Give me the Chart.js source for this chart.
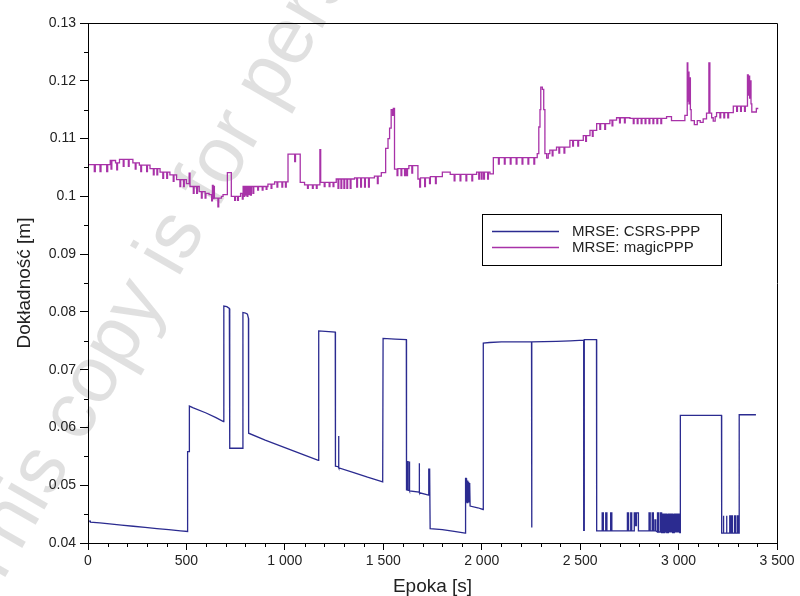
<!DOCTYPE html>
<html><head><meta charset="utf-8">
<script src="https://cdn.jsdelivr.net/npm/chart.js@4"></script>
<style>html,body{margin:0;padding:0;background:#fff;overflow:hidden}</style>
</head><body>
<canvas id="c" width="800" height="596" style="display:block"></canvas>
<script>
const xTickValues = [0, 500, 1000, 1500, 2000, 2500, 3000, 3500];
const xTickLabels = ['0', '500', '1 000', '1 500', '2 000', '2 500', '3 000', '3 500'];
const yTickValues = [0.04, 0.05, 0.06, 0.07, 0.08, 0.09, 0.10, 0.11, 0.12, 0.13];
const yTickLabels = ['0.04', '0.05', '0.06', '0.07', '0.08', '0.09', '0.1', '0.11', '0.12', '0.13'];
const seriesNames = ['MRSE: CSRS-PPP', 'MRSE: magicPPP'];
const xTitle = 'Epoka [s]';
const yTitle = 'Dokładność [m]';
const watermarkText = 'This copy is for personal use only';

const csrsPPP = [
[0,0.0438],[12,0.0438],[12,0.0436],[60,0.0435],[110,0.0433],[170,0.0431],[230,0.0429],[290,0.0427],[350,0.0425],[410,0.0423],[470,0.0421],[506,0.0420],
[506,0.0558],[515,0.0558],[515,0.0637],[535,0.0634],[600,0.0625],[650,0.0617],[688,0.0610],
[690,0.0810],[705,0.0809],[718,0.0806],[720,0.0564],[786,0.0564],
[787,0.0799],[800,0.0798],[810,0.0796],[815,0.0789],[816,0.0590],
[900,0.0578],[1000,0.0565],[1100,0.0552],[1170,0.0543],
[1172,0.0767],[1256,0.0765],[1257,0.0533],[1271,0.0532],[1272,0.0585],[1274,0.0585],[1275,0.0530],[1350,0.0522],[1420,0.0514],[1497,0.0506],
[1499,0.0754],[1560,0.0753],[1617,0.0752],[1618,0.0492],[1624,0.0492],[1624,0.0541],[1626,0.0541],[1626,0.0491],[1632,0.0491],[1632,0.0541],[1634,0.0541],[1634,0.0490],
[1682,0.0488],[1682,0.0538],[1684,0.0538],[1684,0.0487],[1730,0.0483],[1731,0.0529],[1733,0.0483],[1734,0.0529],[1737,0.0529],[1738,0.0425],
[1800,0.0423],[1860,0.0420],[1916,0.0417],
[1918,0.0512],[1921,0.0512],[1922,0.0470],[1924,0.0510],[1926,0.0470],[1928,0.0508],[1930,0.0470],[1932,0.0506],[1934,0.0470],[1936,0.0504],[1938,0.0470],[1940,0.0502],[1941,0.0464],
[1980,0.0461],[2007,0.0458],
[2008,0.0746],[2040,0.0747],[2100,0.0748],[2253,0.0748],[2253,0.0427],[2255,0.0427],[2255,0.0748],[2380,0.0749],[2450,0.0750],[2518,0.0751],
[2518,0.0422],[2521,0.0422],[2521,0.0752],[2583,0.0752],[2584,0.0421],
[2612,0.0421],[2612,0.0452],[2618,0.0452],[2618,0.0421],
[2630,0.0421],[2630,0.0452],[2636,0.0452],[2636,0.0421],
[2655,0.0421],[2655,0.0452],[2661,0.0452],[2661,0.0421],
[2740,0.0421],[2740,0.0452],[2746,0.0452],[2746,0.0421],
[2757,0.0421],[2757,0.0452],[2762,0.0452],[2762,0.0421],
[2775,0.0421],[2775,0.0452],[2781,0.0452],[2781,0.0430],[2786,0.0430],[2786,0.0452],[2796,0.0452],[2796,0.0421],
[2850,0.0421],[2850,0.0452],[2856,0.0452],[2856,0.0421],
[2866,0.0421],[2866,0.0452],[2872,0.0452],[2872,0.0421],
[2880,0.0421],[2880,0.0440],[2884,0.0440],[2884,0.0421],
[2893,0.0419],[2893,0.0452],[2899,0.0452],[2899,0.0419],
[2908,0.0419],[2908,0.0452],[2914,0.0452],[2914,0.0418],
[2920,0.0418],[2920,0.0450],[2924,0.0450],[2924,0.0418],
[2930,0.0418],[2930,0.0450],[2934,0.0450],[2934,0.0418],
[2936,0.0418],[2936,0.0450],[2940,0.0450],[2940,0.0418],
[2942,0.0418],[2942,0.0450],[2946,0.0450],[2946,0.0418],
[2948,0.0418],[2948,0.0450],[2952,0.0450],[2952,0.0418],
[2954,0.0418],[2954,0.0450],[2958,0.0450],[2958,0.0418],
[2960,0.0418],[2960,0.0450],[2964,0.0450],[2964,0.0418],
[2966,0.0418],[2966,0.0450],[2970,0.0450],[2970,0.0418],
[2972,0.0418],[2972,0.0450],[2976,0.0450],[2976,0.0418],
[2978,0.0418],[2978,0.0450],[2982,0.0450],[2982,0.0418],
[2984,0.0418],[2984,0.0450],[2988,0.0450],[2988,0.0418],
[2990,0.0418],[2990,0.0450],[2994,0.0450],[2994,0.0418],
[2996,0.0418],[2996,0.0450],[3000,0.0450],[3000,0.0418],
[3002,0.0418],[3002,0.0450],[3006,0.0450],[3006,0.0418],
[3009,0.0418],[3009,0.0621],[3100,0.0621],[3218,0.0621],[3219,0.0417],
[3226,0.0417],[3226,0.0447],[3230,0.0447],[3230,0.0417],
[3242,0.0417],[3242,0.0447],[3246,0.0447],[3246,0.0417],
[3260,0.0417],[3260,0.0447],[3264,0.0447],[3264,0.0417],
[3270,0.0417],[3270,0.0447],[3274,0.0447],[3274,0.0417],
[3285,0.0417],[3285,0.0447],[3289,0.0447],[3289,0.0417],
[3298,0.0417],[3298,0.0447],[3304,0.0447],[3304,0.0417],
[3308,0.0417],[3308,0.0622],[3393,0.0622]
];

const magicPPP = [
[0,0.1055],[32,0.1043],[37,0.1055],[61,0.1043],[66,0.1055],[95,0.1043],[100,0.1055],
[113,0.1062],[117,0.1047],[121,0.1062],[140,0.1058],[146,0.1046],[150,0.1058],
[160,0.1064],[179,0.1052],[183,0.1064],[205,0.1052],[209,0.1064],
[228,0.1058],[240,0.1047],[244,0.1058],
[261,0.1054],[268,0.1043],[272,0.1054],[298,0.1043],[302,0.1054],
[315,0.1048],[332,0.1037],[336,0.1048],[350,0.1037],[354,0.1048],
[366,0.1042],[380,0.1031],[384,0.1042],[400,0.1031],[404,0.1042],
[416,0.1037],[433,0.1026],[437,0.1037],
[450,0.1029],[467,0.1017],[471,0.1029],[485,0.1017],[489,0.1029],
[500,0.1022],[514,0.1040],[518,0.1017],[535,0.1005],[539,0.1017],[552,0.1005],[556,0.1017],
[565,0.1008],[576,0.0997],[580,0.1008],[595,0.0997],[599,0.1005],
[615,0.1003],[628,0.0992],[632,0.1019],[636,0.0996],[639,0.1017],[642,0.0997],
[655,0.0997],[660,0.0982],[664,0.0997],[678,0.1000],[686,0.1003],
[708,0.1041],[728,0.1000],[745,0.0993],[749,0.1000],[760,0.0993],[764,0.1000],
[775,0.1005],[784,0.0995],[788,0.1017],[792,0.1000],[796,0.1017],[800,0.1002],[804,0.1017],[808,0.1000],[812,0.1017],[816,0.1003],[820,0.1017],[826,0.1002],[830,0.1017],[838,0.1005],[842,0.1017],
[862,0.1011],[866,0.1017],[885,0.1011],[889,0.1017],[905,0.1012],[909,0.1017],
[914,0.1021],[930,0.1014],[934,0.1021],
[948,0.1025],[960,0.1016],[964,0.1025],[985,0.1016],[989,0.1025],[1003,0.1016],[1007,0.1025],
[1016,0.1073],[1050,0.1060],[1054,0.1073],
[1078,0.1024],[1100,0.1020],[1115,0.1014],[1119,0.1020],[1140,0.1014],[1144,0.1020],[1160,0.1014],[1164,0.1020],
[1178,0.1081],[1182,0.1024],[1200,0.1017],[1204,0.1024],[1225,0.1017],[1229,0.1024],[1245,0.1017],[1249,0.1024],
[1261,0.1030],[1270,0.1014],[1274,0.1030],[1285,0.1014],[1289,0.1030],[1300,0.1014],[1304,0.1030],[1315,0.1014],[1319,0.1030],[1332,0.1014],[1336,0.1030],
[1354,0.1032],[1365,0.1016],[1369,0.1032],[1385,0.1016],[1389,0.1032],[1405,0.1016],[1409,0.1032],[1425,0.1016],[1429,0.1032],
[1455,0.1035],[1470,0.1022],[1474,0.1035],
[1490,0.1041],[1512,0.1083],[1524,0.1100],[1532,0.1118],[1540,0.1150],[1547,0.1140],[1551,0.1152],[1557,0.1047],
[1570,0.1036],[1574,0.1048],[1590,0.1036],[1594,0.1048],[1608,0.1036],[1611,0.1048],[1614,0.1036],[1617,0.1048],[1620,0.1036],[1623,0.1048],
[1630,0.1053],[1645,0.1040],[1649,0.1053],[1668,0.1053],
[1676,0.1030],[1685,0.1016],[1689,0.1032],[1710,0.1017],[1714,0.1032],[1735,0.1022],[1739,0.1034],[1765,0.1022],[1769,0.1034],
[1800,0.1042],[1840,0.1038],[1860,0.1027],[1864,0.1038],[1890,0.1027],[1894,0.1038],[1920,0.1027],[1924,0.1038],[1950,0.1027],[1954,0.1038],
[1974,0.1042],[1985,0.1030],[1989,0.1042],[1998,0.1030],[2002,0.1042],[2010,0.1030],[2014,0.1042],[2030,0.1030],[2034,0.1042],
[2042,0.1039],
[2059,0.1067],[2085,0.1056],[2089,0.1067],[2115,0.1056],[2119,0.1067],[2145,0.1056],[2149,0.1067],[2175,0.1056],[2179,0.1067],[2205,0.1056],[2209,0.1067],[2235,0.1056],[2239,0.1067],[2265,0.1056],[2269,0.1067],
[2282,0.1074],[2290,0.1120],[2296,0.1150],[2300,0.1189],[2308,0.1185],[2315,0.1150],[2321,0.1074],[2330,0.1066],[2338,0.1074],
[2346,0.1080],[2358,0.1070],[2362,0.1080],
[2380,0.1085],[2392,0.1075],[2396,0.1085],[2418,0.1075],[2422,0.1085],
[2448,0.1097],[2462,0.1087],[2466,0.1097],[2488,0.1087],[2492,0.1097],
[2516,0.1105],[2528,0.1095],[2532,0.1105],
[2550,0.1114],[2562,0.1104],[2566,0.1114],
[2584,0.1126],[2600,0.1116],[2604,0.1126],[2625,0.1116],[2629,0.1126],
[2651,0.1132],[2662,0.1122],[2666,0.1132],
[2685,0.1136],[2700,0.1127],[2704,0.1136],[2725,0.1127],[2729,0.1136],
[2753,0.1135],[2770,0.1126],[2774,0.1135],[2790,0.1126],[2794,0.1135],[2810,0.1126],[2814,0.1135],[2830,0.1126],[2834,0.1135],[2850,0.1126],[2854,0.1135],[2870,0.1126],[2874,0.1135],[2890,0.1126],[2894,0.1135],[2910,0.1126],[2914,0.1135],
[2939,0.1138],[2964,0.1131],[3032,0.1140],
[3044,0.1231],[3047,0.1165],[3050,0.1215],[3053,0.1160],[3056,0.1205],[3060,0.1150],[3064,0.1131],
[3080,0.1124],[3095,0.1131],[3110,0.1128],[3125,0.1134],[3142,0.1144],
[3154,0.1231],[3159,0.1144],[3168,0.1136],[3176,0.1130],[3186,0.1138],
[3193,0.1145],[3210,0.1136],[3214,0.1145],[3230,0.1136],[3234,0.1145],[3250,0.1136],[3254,0.1145],
[3278,0.1156],[3295,0.1147],[3299,0.1156],[3315,0.1147],[3319,0.1156],[3335,0.1147],[3339,0.1156],
[3350,0.1210],[3354,0.1175],[3357,0.1208],[3361,0.1170],[3364,0.1200],[3368,0.1160],[3372,0.1146],
[3395,0.1152],[3405,0.1152]
];

const seriesColors = ['#2b2b90', '#a832a8'];
const FONT = "'Liberation Sans', Arial, sans-serif";

const toXY = arr => arr.map(p => ({x: p[0], y: p[1]}));

const framePlugin = {
  id: 'frame',
  beforeDraw(chart) {
    const ctx = chart.ctx;
    ctx.save();
    ctx.fillStyle = '#fff';
    ctx.fillRect(0, 0, chart.width, chart.height);
    // watermark
    ctx.translate(-24, 584);
    ctx.rotate(-60 * Math.PI / 180);
    ctx.font = '80px ' + FONT;
    ctx.fillStyle = 'rgba(0,0,0,0.12)';
    ctx.textBaseline = 'middle';
    ctx.fillText(watermarkText, 0, 0);
    ctx.restore();
  },
  afterDraw(chart) {
    const ctx = chart.ctx;
    const a = chart.chartArea;
    const xs = chart.scales.x, ys = chart.scales.y;
    ctx.save();
    ctx.strokeStyle = '#000';
    ctx.lineWidth = 1;
    ctx.beginPath();
    ctx.rect(Math.round(a.left) + 0.5, Math.round(a.top) + 0.5, Math.round(a.right - a.left), Math.round(a.bottom - a.top));
    ctx.stroke();
    // minor ticks
    ctx.beginPath();
    for (let v = 100; v < 3500; v += 100) {
      if (v % 500 === 0) continue;
      const px = Math.round(xs.getPixelForValue(v)) + 0.5;
      ctx.moveTo(px, Math.round(a.bottom));
      ctx.lineTo(px, Math.round(a.bottom) + 4);
    }
    for (let i = 0; i < yTickValues.length - 1; i++) {
      const v = (yTickValues[i] + yTickValues[i + 1]) / 2;
      const py = Math.round(ys.getPixelForValue(v)) + 0.5;
      ctx.moveTo(Math.round(a.left) - 4, py);
      ctx.lineTo(Math.round(a.left), py);
    }
    ctx.stroke();
    // legend
    const bx = 482, by = 214, bw = 239, bh = 51;
    ctx.fillStyle = '#fff';
    ctx.fillRect(bx, by, bw, bh);
    ctx.strokeRect(bx + 0.5, by + 0.5, bw, bh);
    const rows = [231.5, 247.5];
    ctx.font = '15px ' + FONT;
    ctx.textBaseline = 'middle';
    ctx.textAlign = 'left';
    rows.forEach((yy, i) => {
      ctx.strokeStyle = seriesColors[i];
      ctx.lineWidth = 1.5;
      ctx.beginPath();
      ctx.moveTo(492, yy);
      ctx.lineTo(559, yy);
      ctx.stroke();
      ctx.fillStyle = '#222';
      ctx.fillText(seriesNames[i], 572, yy);
    });
    ctx.restore();
  }
};

new Chart(document.getElementById('c'), {
  type: 'line',
  data: {
    datasets: [
      {label: seriesNames[0], data: toXY(csrsPPP), borderColor: seriesColors[0], borderWidth: 1.3, pointRadius: 0, tension: 0, fill: false},
      {label: seriesNames[1], data: toXY(magicPPP), borderColor: seriesColors[1], borderWidth: 1.3, pointRadius: 0, tension: 0, fill: false, stepped: true}
    ]
  },
  options: {
    responsive: false,
    animation: false,
    events: [],
    layout: {padding: {top: 23, right: 23, left: 0, bottom: 0}},
    plugins: {legend: {display: false}, tooltip: {enabled: false}},
    scales: {
      x: {
        type: 'linear', min: 0, max: 3500,
        afterBuildTicks: s => { s.ticks = xTickValues.map(v => ({value: v})); },
        afterFit: s => { s.height = 53; },
        ticks: {
          autoSkip: false, maxRotation: 0, padding: 3, color: '#222',
          font: {family: FONT, size: 14},
          callback: (v) => { const i = xTickValues.indexOf(v); return i >= 0 ? xTickLabels[i] : ''; }
        },
        grid: {drawOnChartArea: false, drawTicks: true, tickLength: 7, color: '#000', tickColor: '#000'},
        border: {display: true, color: '#000', width: 1},
        title: {display: true, text: xTitle, color: '#222', font: {family: FONT, size: 19, lineHeight: 1}, padding: 0}
      },
      y: {
        type: 'linear', min: 0.04, max: 0.13,
        afterBuildTicks: s => { s.ticks = yTickValues.map(v => ({value: v})); },
        afterFit: s => { s.width = 88; },
        ticks: {
          padding: 4, color: '#222',
          font: {family: FONT, size: 14},
          callback: (v) => { const i = yTickValues.findIndex(t => Math.abs(t - v) < 1e-9); return i >= 0 ? yTickLabels[i] : ''; }
        },
        grid: {drawOnChartArea: false, drawTicks: true, tickLength: 8, color: '#000', tickColor: '#000'},
        border: {display: true, color: '#000', width: 1},
        title: {display: true, text: yTitle, color: '#222', font: {family: FONT, size: 19, lineHeight: 1}, padding: {top: 15, bottom: 0}}
      }
    }
  },
  plugins: [framePlugin]
});
</script>
</body></html>
